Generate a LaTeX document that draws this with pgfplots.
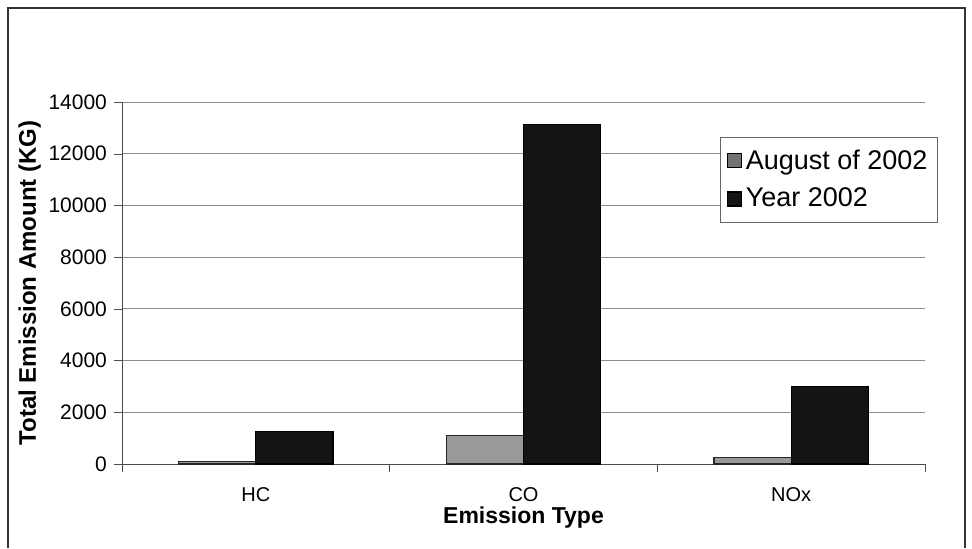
\documentclass[border=0pt]{standalone}
\usepackage{pgfplots}
\pgfplotsset{compat=1.18}
\usepackage{fontspec}
\setmainfont{Liberation Sans}
\begin{document}
\begin{tikzpicture}
\begin{axis}[
  scale only axis,
  width=401.5pt, height=181pt,
  ybar=0pt, bar width=0.288,
  xmin=0.5, xmax=3.5,
  ymin=0, ymax=14000,
  ytick={0,2000,...,14000},
  xtick={1,2,3},
  xticklabels={HC,CO,NOx},
  minor xtick={0.5,1.5,2.5,3.5},
  major x tick style={draw=none},
  minor x tick style={black!70},
  tick align=outside,
  minor tick length=4pt,
  major tick length=4pt,
  axis x line*=bottom,
  axis y line*=left,
  axis line style={black!70},
  ytick style={black!70},
  ymajorgrids,
  grid style={black!45, line width=0.5pt},
  /pgf/number format/assume math mode=true,
  scaled y ticks=false,
  yticklabel style={/pgf/number format/1000 sep={}, font=\fontsize{10.5}{12}\selectfont},
  xticklabel style={font=\fontsize{10}{12}\selectfont, yshift=-4pt},
  xlabel={\textbf{Emission Type}},
  ylabel={\textbf{Total Emission Amount (KG)}},
  xlabel style={font=\fontsize{11.5}{13}\selectfont, yshift=4pt},
  ylabel style={font=\fontsize{12}{14}\selectfont, yshift=-3pt},
  legend style={at={(axis description cs:0.745,0.903)}, anchor=north west,
    draw=black!60, font=\fontsize{13.5}{16}\selectfont, row sep=4pt,
    inner xsep=3pt, inner ysep=4pt},
  legend cell align=left,
  clip=false,
]
\addplot[fill=black!40, draw=black!85, line width=0.6pt,
  legend image code/.code={\draw[fill=black!55, draw=black] (0pt,-3.5pt) rectangle (7pt,3.5pt);}]
  coordinates {(1,90) (2,1090) (3,260)};
\addplot[fill=black!92, draw=black, line width=0.6pt,
  legend image code/.code={\draw[fill=black!92, draw=black] (0pt,-3.5pt) rectangle (7pt,3.5pt);}]
  coordinates {(1,1260) (2,13120) (3,2990)};
\legend{August of 2002, Year 2002}
\path (axis description cs:-0.1519,-0.232) rectangle (axis description cs:1.0585,1.2818);
\draw[black!80, line width=0.7pt] (axis description cs:-0.142,-0.232) -- (axis description cs:-0.142,1.26) -- (axis description cs:1.05,1.26) -- (axis description cs:1.05,-0.232);
\end{axis}
\end{tikzpicture}
\end{document}
